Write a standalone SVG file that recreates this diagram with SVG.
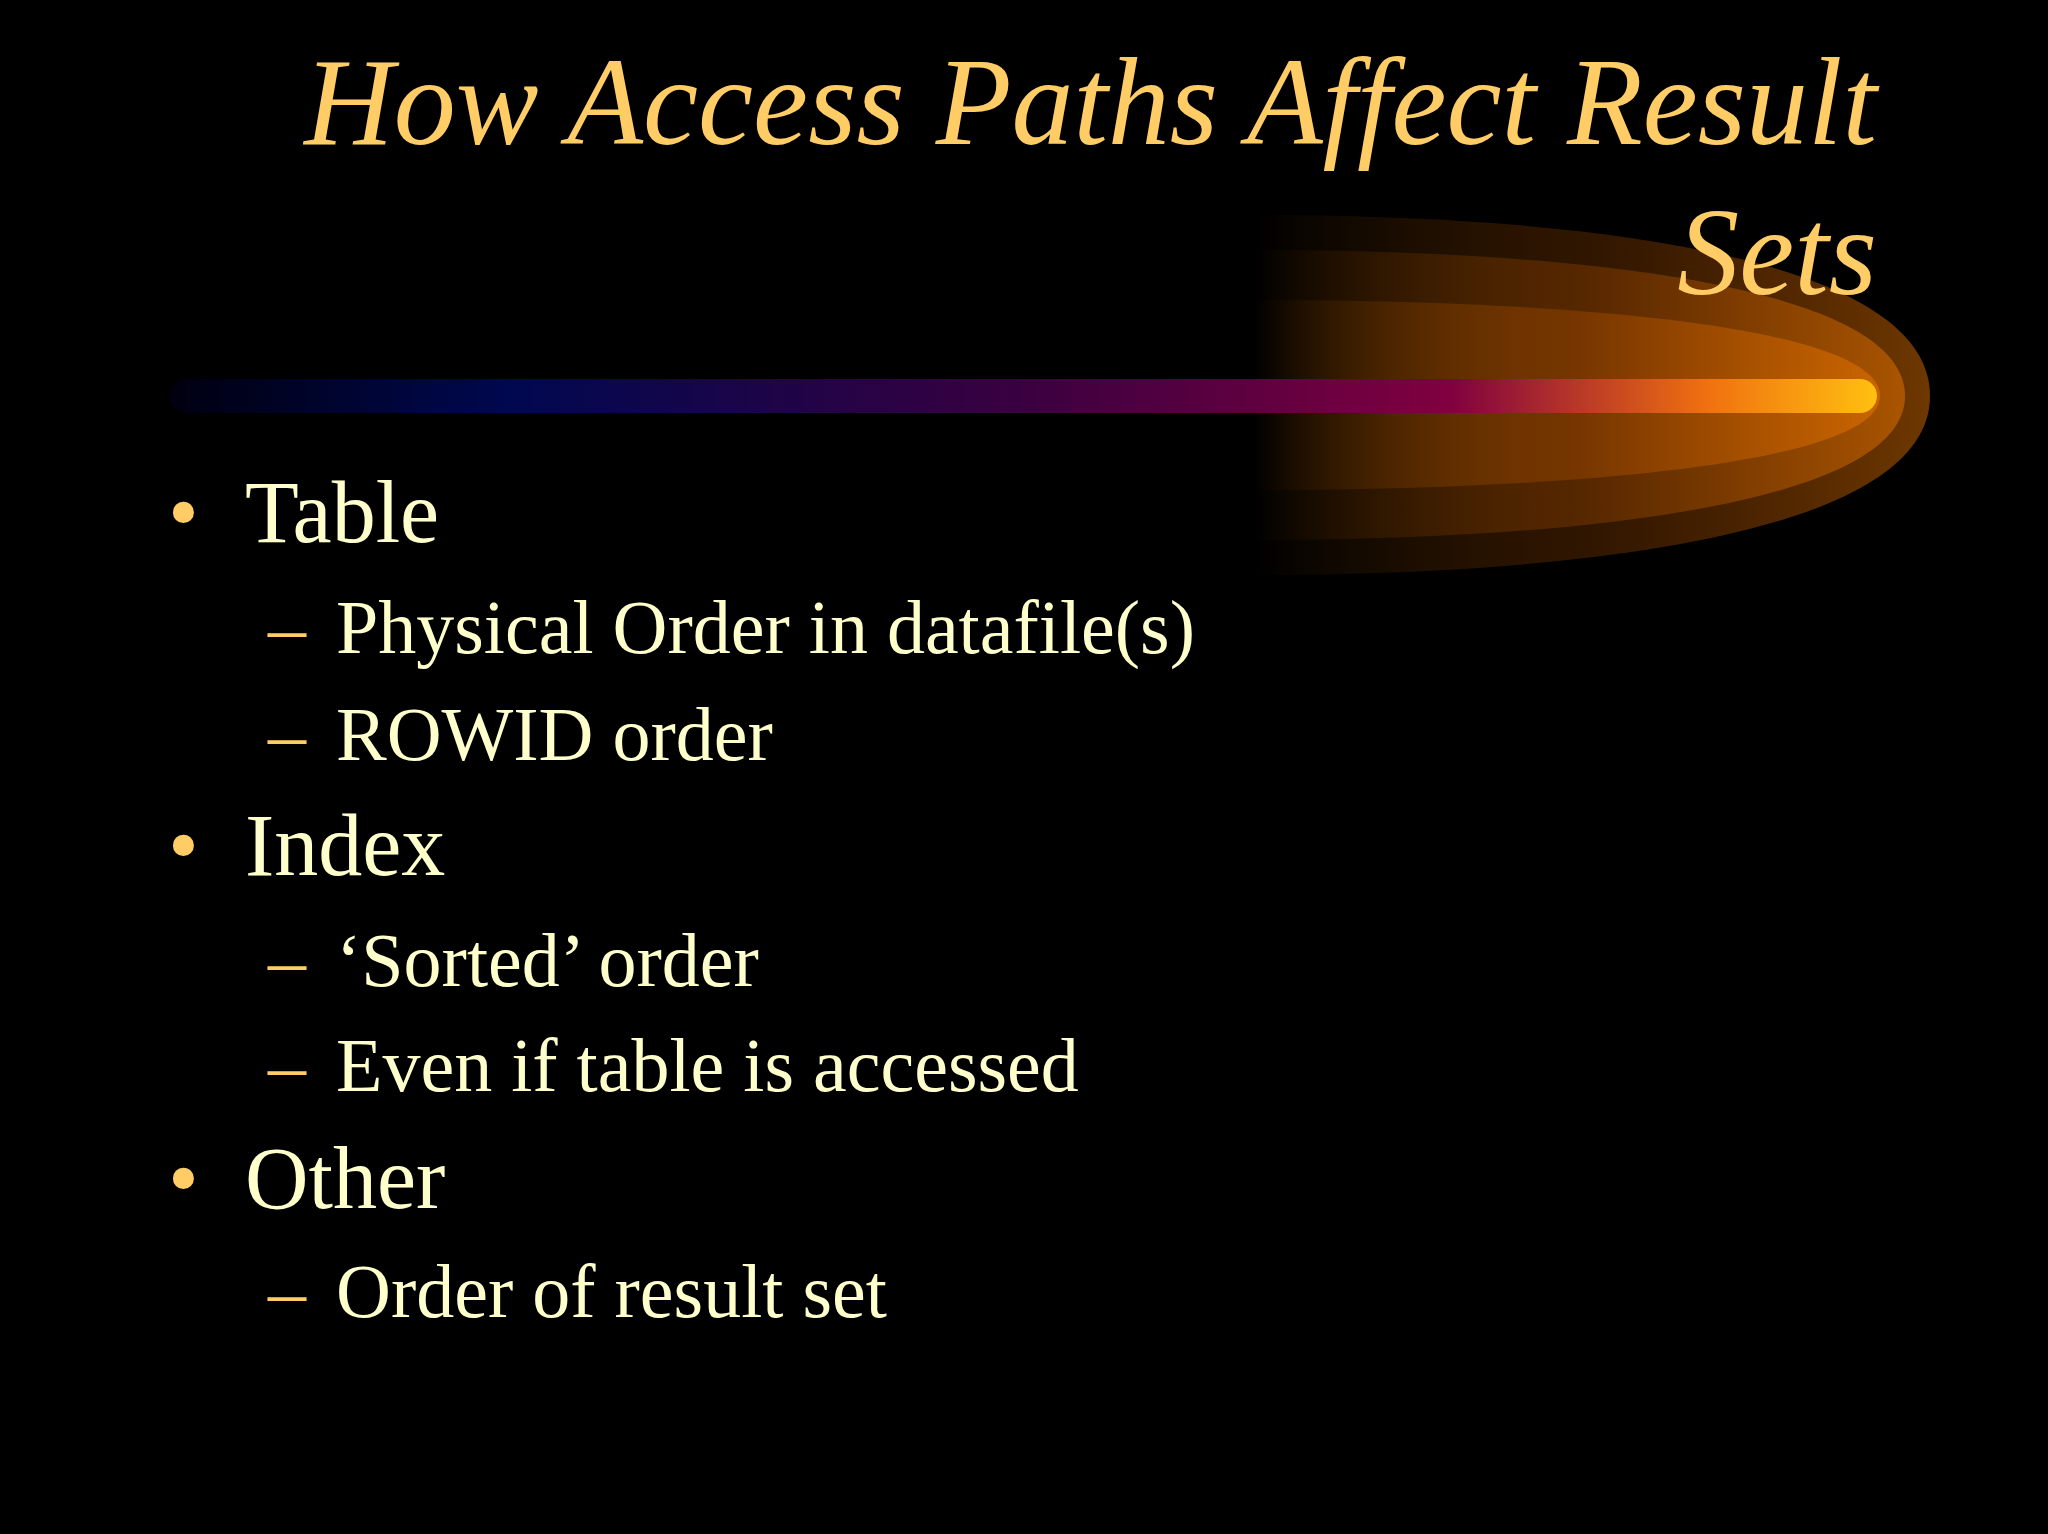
<svg xmlns="http://www.w3.org/2000/svg" width="2048" height="1534" viewBox="0 0 2048 1534">
<defs>
<linearGradient id="bar" x1="0" x2="1" y1="0" y2="0">
<stop offset="0" stop-color="#000010"/>
<stop offset="0.2" stop-color="#000850"/>
<stop offset="0.5" stop-color="#3a0040"/>
<stop offset="0.75" stop-color="#800040"/>
<stop offset="0.9" stop-color="#f07010"/>
<stop offset="1" stop-color="#ffc010"/>
</linearGradient>
<linearGradient id="glow" x1="0" x2="1" y1="0" y2="0">
<stop offset="0" stop-color="#ff8000" stop-opacity="0"/>
<stop offset="0.5" stop-color="#b05000" stop-opacity="0.5"/>
<stop offset="1" stop-color="#e07000" stop-opacity="0.9"/>
</linearGradient>
<style>
.t{font-family:"Liberation Serif",serif;fill:#ffffcc}
.b{font-family:"Liberation Serif",serif;fill:#ffcc66}
</style>
</defs>
<rect width="2048" height="1534" fill="#000"/>
<g id="glow-shape">
<path d="M1254,215 C1600,215 1930,260 1930,396 C1930,530 1600,575 1254,575 Z" fill="url(#glow)" opacity="0.55"/>
<path d="M1254,250 C1600,250 1905,290 1905,396 C1905,500 1600,540 1254,540 Z" fill="url(#glow)" opacity="0.6"/>
<path d="M1254,300 C1600,300 1880,330 1880,396 C1880,460 1600,490 1254,490 Z" fill="url(#glow)" opacity="0.7"/>
</g>
<rect id="bar-line" x="170" y="379" width="1707" height="34" rx="17" fill="url(#bar)"/>
<g id="title" class="b" font-style="italic" font-size="124" text-anchor="end">
<text x="1877" y="144">How Access Paths Affect Result</text>
<text x="1877" y="294">Sets</text>
</g>
<g id="bullets">
<g font-size="88"><text class="b" x="168" y="542">•</text><text class="t" x="245" y="542">Table</text></g>
<g font-size="76"><text class="b" x="268" y="653">–</text><text class="t" x="336" y="653">Physical Order in datafile(s)</text></g>
<g font-size="76"><text class="b" x="268" y="760">–</text><text class="t" x="336" y="760">ROWID order</text></g>
<g font-size="88"><text class="b" x="168" y="875">•</text><text class="t" x="245" y="875">Index</text></g>
<g font-size="76"><text class="b" x="268" y="986">–</text><text class="t" x="336" y="986">‘Sorted’ order</text></g>
<g font-size="76"><text class="b" x="268" y="1091">–</text><text class="t" x="336" y="1091">Even if table is accessed</text></g>
<g font-size="88"><text class="b" x="168" y="1208">•</text><text class="t" x="245" y="1208">Other</text></g>
<g font-size="76"><text class="b" x="268" y="1317">–</text><text class="t" x="336" y="1317">Order of result set</text></g>
</g>
</svg>
